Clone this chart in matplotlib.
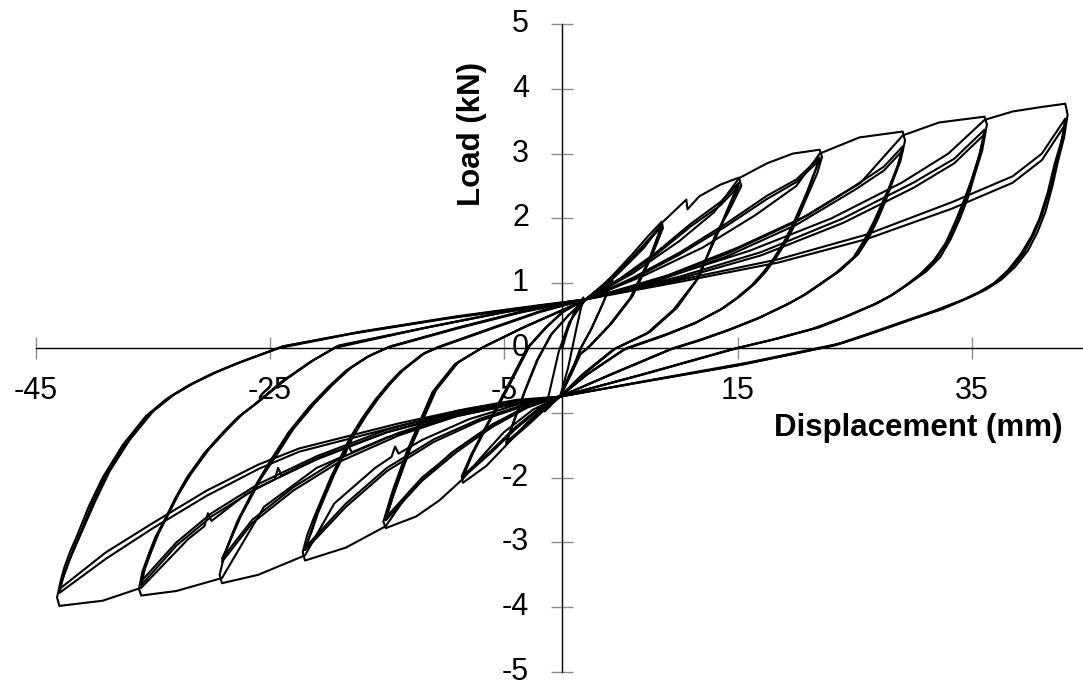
import matplotlib
matplotlib.use('Agg')
import matplotlib.pyplot as plt

plt.rcParams['font.family'] = ['Liberation Sans', 'DejaVu Sans']
plt.rcParams['axes.unicode_minus'] = False

# Cyclic load test: each loop is a list of cycles, each cycle one closed path
# written as: positive reload + unload + negative reload + unload back to the pinch
loop1_x = [[0, 0.4, 1.0, 1.8, 1.2, 0.5, -0.2, -0.8, -1.5, -1.0, -0.3, 0.6, 2.0]]
loop1_y = [[0, 0.25, 0.55, 0.78, 0.3, -0.3, -0.75, -0.85, -0.98, -0.6, -0.05, 0.4, 0.75]]

loop2_x = [
    [2.0, 3.0, 4.3, 3.5, 2.5, 1.6, 0.9, -0.2, -1.5, -3.0, -4.8, -4.2, -3.3, -2.2, -1.0, 0.5, 2.0],
    [2.0, 3.0, 4.3, 3.4, 2.4, 1.5, 0.8, -0.2, -1.5, -3.0, -4.8, -4.1, -3.2, -2.1, -0.9, 0.6, 2.0],
]
loop2_y = [
    [0.75, 0.9, 1.08, 0.7, 0.3, 0.0, -0.35, -0.75, -0.95, -1.2, -1.48, -1.15, -0.7, -0.2, 0.2, 0.5, 0.75],
    [0.75, 0.88, 1.05, 0.66, 0.27, -0.02, -0.37, -0.75, -0.93, -1.18, -1.45, -1.12, -0.67, -0.18, 0.22, 0.52, 0.75],
]

loop3_x = [
    [2.0, 3.2, 4.3, 6.0, 7.3, 8.5, 8.6, 7.6, 6.0, 4.2, 2.3, 1.6, 0.8, -0.2,
     -1.5, -3, -4.8, -6.5, -8.5, -8.6, -7.8, -6.5, -5.0, -3.0, -1.5, 0.0, 2.0],
    [2.0, 3.5, 5, 6.5, 8.5, 7.5, 5.9, 4.1, 2.2, 1.5, 0.7, -0.2,
     -2, -4, -6, -8.5, -7.7, -6.4, -4.9, -2.9, -1.4, 0.1, 2.0],
    [2.0, 3.5, 5, 6.5, 8.5, 7.4, 5.8, 4.0, 2.1, 1.4, 0.6, -0.2,
     -2, -4, -6, -8.5, -7.6, -6.3, -4.8, -2.8, -1.3, 0.2, 2.0],
]
loop3_y = [
    [0.75, 0.92, 1.12, 1.45, 1.72, 1.95, 1.85, 1.4, 0.8, 0.38, 0.02, -0.08, -0.38, -0.75,
     -0.9, -1.15, -1.5, -1.82, -2.08, -1.98, -1.65, -1.2, -0.7, 0.0, 0.3, 0.55, 0.75],
    [0.75, 0.98, 1.22, 1.5, 1.9, 1.38, 0.78, 0.36, 0.0, -0.1, -0.4, -0.75,
     -0.95, -1.25, -1.6, -2.0, -1.63, -1.18, -0.68, 0.02, 0.32, 0.57, 0.75],
    [0.75, 0.96, 1.2, 1.47, 1.88, 1.36, 0.77, 0.35, -0.01, -0.11, -0.41, -0.75,
     -0.93, -1.22, -1.57, -1.97, -1.61, -1.16, -0.67, 0.03, 0.33, 0.58, 0.75],
]

loop4_x = [
    [2.0, 4.5, 7, 8.5, 10.6, 10.7, 11.7, 13.5, 15.1, 15.3, 14.2, 13.1, 11.7, 9.8, 7.5, 4.6, 2.0, -0.2,
     -2.5, -5, -7, -8.5, -10.5, -12.5, -15.1, -15.3, -14.5, -13.3, -11.1, -9.2, -6.9, -3.5, 0, 2.0],
    [2.0, 5, 8, 11, 13.5, 15.1, 14.1, 12.9, 11.5, 9.6, 7.3, 4.4, 1.8, -0.2,
     -3, -6, -9, -12, -15.1, -14.3, -13.1, -10.9, -9.0, -6.7, -3.3, 0.2, 2.0],
    [2.0, 5, 8, 11, 13.5, 15.1, 14.0, 12.8, 11.4, 9.5, 7.2, 4.3, 1.7, -0.2,
     -3, -6, -9, -12, -15.1, -14.2, -13.0, -10.8, -8.9, -6.6, -3.2, 0.3, 2.0],
]
loop4_y = [
    [0.75, 1.1, 1.55, 1.93, 2.29, 2.14, 2.34, 2.52, 2.63, 2.5, 2.1, 1.75, 1.1, 0.62, 0.25, 0.0, -0.38, -0.75,
     -0.95, -1.3, -1.7, -2.02, -2.35, -2.6, -2.78, -2.68, -2.2, -1.6, -0.68, -0.25, 0.0, 0.3, 0.58, 0.75],
    [0.75, 1.08, 1.47, 1.92, 2.25, 2.55, 2.13, 1.62, 1.05, 0.6, 0.23, -0.02, -0.4, -0.75,
     -0.92, -1.22, -1.6, -2.05, -2.66, -2.17, -1.57, -0.66, -0.23, 0.02, 0.32, 0.6, 0.75],
    [0.75, 1.06, 1.44, 1.88, 2.2, 2.5, 2.05, 1.58, 1.03, 0.59, 0.22, -0.03, -0.41, -0.75,
     -0.9, -1.19, -1.56, -2.0, -2.62, -2.15, -1.55, -0.65, -0.22, 0.03, 0.33, 0.61, 0.75],
]

loop5_x = [
    [2.0, 6, 10, 13, 15.1, 17.5, 19.7, 22.0]
    + [22.2, 21.8, 21.2, 20.6, 20.0, 19.2, 18.3, 17.4, 16.5, 15.2, 13.8, 11.5, 9, 5.5, 2.2, -0.2]
    + [-3, -6, -9.5, -13, -15.1, -18.5, -22.0]
    + [-22.2, -21.8, -21.2, -20.5, -19.8, -19.0, -18.2, -17.1, -16.0, -14.9, -13.9, -12.0, -10.7, -6, -2, 2.0],
    [2.0, 6, 10, 14, 17.5, 20, 22.0]
    + [21.5, 21.0, 20.4, 19.8, 19.0, 18.1, 17.2, 16.3, 15.0, 13.6, 11.3, 8.8, 5.3, 2.0, -0.2]
    + [-3, -7, -11, -15, -18.5, -22.0]
    + [-21.5, -21.0, -20.3, -19.6, -18.8, -18.0, -16.9, -15.8, -14.7, -13.7, -11.8, -10.5, -5.8, -1.8, 2.0],
    [2.0, 6, 10, 14, 17.5, 20, 22.0]
    + [21.4, 20.9, 20.3, 19.7, 18.9, 18.0, 17.1, 16.2, 14.9, 13.5, 11.2, 8.7, 5.2, 1.9, -0.2]
    + [-3, -7, -11, -15, -18.5, -22.0]
    + [-21.4, -20.9, -20.2, -19.5, -18.7, -17.9, -16.8, -15.7, -14.6, -13.6, -11.7, -10.4, -5.7, -1.7, 2.0],
]
loop5_y = [
    [0.75, 1.15, 1.65, 2.1, 2.62, 2.85, 3.0, 3.06]
    + [2.95, 2.7, 2.45, 2.2, 1.95, 1.66, 1.4, 1.18, 1.0, 0.8, 0.62, 0.4, 0.22, 0.0, -0.4, -0.75]
    + [-0.9, -1.18, -1.62, -2.2, -2.75, -3.08, -3.28]
    + [-3.15, -2.88, -2.6, -2.3, -2.0, -1.7, -1.4, -1.08, -0.8, -0.56, -0.37, -0.1, 0.0, 0.3, 0.55, 0.75],
    [0.75, 1.08, 1.47, 1.92, 2.35, 2.6, 2.94]
    + [2.67, 2.42, 2.17, 1.92, 1.64, 1.38, 1.16, 0.98, 0.78, 0.6, 0.38, 0.2, -0.02, -0.42, -0.75]
    + [-0.88, -1.12, -1.45, -1.9, -2.45, -3.12]
    + [-2.84, -2.57, -2.27, -1.97, -1.67, -1.38, -1.06, -0.78, -0.54, -0.35, -0.08, 0.02, 0.32, 0.57, 0.75],
    [0.75, 1.06, 1.44, 1.88, 2.3, 2.56, 2.9]
    + [2.64, 2.4, 2.15, 1.9, 1.62, 1.36, 1.15, 0.97, 0.77, 0.59, 0.37, 0.19, -0.03, -0.43, -0.75]
    + [-0.86, -1.09, -1.41, -1.85, -2.4, -3.08]
    + [-2.82, -2.55, -2.25, -1.95, -1.66, -1.37, -1.05, -0.77, -0.53, -0.34, -0.07, 0.03, 0.33, 0.58, 0.75],
]

loop6_x = [
    [2.0, 7, 12, 16.5, 20, 22.0, 25.4, 29.1]
    + [29.3, 28.9, 28.3, 27.7, 27.0, 26.2, 25.3, 23.8, 22.2, 20.9, 19.5, 17, 14.5, 12, 9.5, 4.5, -0.2]
    + [-4, -8, -12, -14, -14.3, -14.6, -16, -19.5, -22.0, -26, -29.1]
    + [-29.3, -28.9, -28.4, -27.8, -27.0, -26.1, -25.0, -23.4, -21.6, -20.0, -18.5, -16.8, -15.0, -9, -3.5, 2.0],
    [2.0, 8, 14, 20, 25, 27.5, 29.1]
    + [28.7, 28.1, 27.5, 26.8, 26.0, 25.1, 23.6, 22.0, 20.7, 19.3, 16.8, 14.3, 11.8, 9.3, 4.3, -0.2]
    + [-4, -9, -14, -19, -23, -26.5, -29.1]
    + [-28.7, -28.2, -27.6, -26.8, -25.9, -24.8, -23.2, -21.4, -19.8, -18.3, -16.6, -14.8, -8.8, -3.3, 2.0],
    [2.0, 8, 14, 20, 25, 27.5, 29.1]
    + [28.6, 28.0, 27.3, 26.6, 25.8, 24.9, 23.4, 21.8, 20.5, 19.1, 16.6, 14.1, 11.6, 9.1, 4.1, -0.2]
    + [-4, -9, -14, -19, -23, -26.5, -29.1]
    + [-28.6, -28.1, -27.5, -26.7, -25.8, -24.6, -23.0, -21.2, -19.6, -18.1, -16.4, -14.6, -8.6, -3.1, 2.0],
]
loop6_y = [
    [0.75, 1.12, 1.55, 2.05, 2.5, 3.0, 3.25, 3.34]
    + [3.2, 2.88, 2.6, 2.3, 2.0, 1.7, 1.45, 1.2, 1.0, 0.84, 0.7, 0.48, 0.3, 0.14, 0.0, -0.38, -0.75]
    + [-0.88, -1.1, -1.42, -1.63, -1.52, -1.68, -1.85, -2.4, -3.2, -3.5, -3.63]
    + [-3.5, -3.2, -2.95, -2.68, -2.4, -2.08, -1.75, -1.3, -0.9, -0.6, -0.35, -0.15, 0.0, 0.3, 0.55, 0.75],
    [0.75, 1.05, 1.45, 1.95, 2.5, 2.8, 3.11]
    + [2.82, 2.55, 2.25, 1.97, 1.68, 1.42, 1.18, 0.98, 0.82, 0.68, 0.46, 0.28, 0.12, -0.02, -0.4, -0.75]
    + [-0.86, -1.05, -1.35, -1.75, -2.2, -2.7, -3.3]
    + [-3.1, -2.88, -2.62, -2.36, -2.05, -1.72, -1.27, -0.88, -0.58, -0.33, -0.13, 0.02, 0.32, 0.57, 0.75],
    [0.75, 1.03, 1.41, 1.9, 2.44, 2.74, 3.05]
    + [2.78, 2.5, 2.22, 1.94, 1.66, 1.4, 1.16, 0.96, 0.8, 0.66, 0.45, 0.27, 0.11, -0.03, -0.41, -0.75]
    + [-0.84, -1.02, -1.31, -1.7, -2.15, -2.65, -3.25]
    + [-3.06, -2.85, -2.6, -2.33, -2.02, -1.7, -1.25, -0.86, -0.56, -0.31, -0.11, 0.03, 0.33, 0.58, 0.75],
]

loop7_x = [
    [2.0, 9, 15, 21, 25.5, 29.1, 32.2, 36.1]
    + [36.3, 35.9, 35.3, 34.7, 34.0, 33.2, 32.3, 31.1, 29.7, 28.4, 27, 24.5, 22, 18.5, 15, 7.5, -0.2]
    + [-4, -9, -15, -18, -18.3, -18.6, -21, -25.5, -29.1, -33, -36.0]
    + [-36.2, -35.9, -35.4, -34.8, -34.0, -33.1, -32.1, -30.6, -29, -27.8, -26.5, -24, -21.6, -19.5, -12, -5, 2.0],
    [2.0, 10, 17, 24, 30, 33.5, 36.1]
    + [35.7, 35.1, 34.5, 33.8, 33.0, 32.0, 30.8, 29.5, 28.2, 26.8, 24.2, 21.5, 18, 14.5, 7, -0.2]
    + [-4, -9, -15, -21, -26, -30, -33, -36.0]
    + [-35.7, -35.2, -34.6, -33.8, -32.9, -31.9, -30.4, -28.8, -27.6, -26.3, -23.8, -21.4, -19.3, -11.5, -4.5, 2.0],
    [2.0, 10, 17, 24, 30, 33.5, 36.1]
    + [35.6, 35.0, 34.3, 33.6, 32.8, 31.8, 30.6, 29.3, 28.0, 26.6, 24.0, 21.3, 17.8, 14.3, 6.8, -0.2]
    + [-4, -9, -15, -21, -26, -30, -33, -36.0]
    + [-35.6, -35.1, -34.5, -33.7, -32.8, -31.7, -30.2, -28.6, -27.4, -26.1, -23.6, -21.2, -19.1, -11, -4, 2.0],
]
loop7_y = [
    [0.75, 1.12, 1.55, 2.05, 2.55, 3.28, 3.48, 3.57]
    + [3.45, 3.05, 2.7, 2.33, 2.0, 1.68, 1.4, 1.18, 1.0, 0.84, 0.7, 0.5, 0.32, 0.15, 0.0, -0.38, -0.75]
    + [-0.86, -1.05, -1.38, -1.61, -1.5, -1.66, -1.85, -2.45, -3.55, -3.75, -3.82]
    + [-3.72, -3.45, -3.2, -2.92, -2.65, -2.32, -2.0, -1.62, -1.3, -1.08, -0.9, -0.52, -0.22, 0.0, 0.3, 0.55, 0.75],
    [0.75, 1.1, 1.48, 2.0, 2.55, 2.92, 3.37]
    + [3.0, 2.65, 2.3, 1.98, 1.66, 1.38, 1.16, 0.98, 0.82, 0.68, 0.48, 0.3, 0.13, -0.02, -0.4, -0.75]
    + [-0.84, -1.0, -1.3, -1.72, -2.15, -2.6, -3.05, -3.66]
    + [-3.4, -3.15, -2.88, -2.6, -2.28, -1.96, -1.59, -1.27, -1.05, -0.87, -0.5, -0.2, 0.02, 0.32, 0.57, 0.75],
    [0.75, 1.07, 1.43, 1.93, 2.47, 2.85, 3.3]
    + [2.95, 2.6, 2.26, 1.95, 1.63, 1.36, 1.14, 0.96, 0.8, 0.67, 0.47, 0.29, 0.12, -0.03, -0.41, -0.75]
    + [-0.82, -0.97, -1.26, -1.67, -2.1, -2.55, -3.0, -3.6]
    + [-3.36, -3.12, -2.85, -2.57, -2.25, -1.93, -1.56, -1.25, -1.03, -0.85, -0.48, -0.18, 0.04, 0.34, 0.59, 0.75],
]

loop8_x = [
    [2.0, 9, 16, 23, 29, 33, 36.1, 38.5, 41, 43.0]
    + [43.2, 42.9, 42.4, 41.9, 41.3, 40.6, 39.8, 38.7, 37.5, 36.2, 34.8, 32.5, 30, 27, 24, 16, 8, -0.2]
    + [-4, -9, -15, -21, -24, -24.3, -24.6, -27, -30, -30.3, -30.6, -32, -36, -39.3, -43]
    + [-43.2, -42.9, -42.6, -42.1, -41.5, -40.5, -39.3, -37.6, -35.6, -33.8, -32, -30, -28, -24.2, -18, -10, -3, 2.0],
    [2.0, 10, 18.5, 26, 33.3, 38.5, 41, 43.0]
    + [42.7, 42.3, 41.7, 41.0, 40.3, 39.5, 38.4, 37.2, 35.9, 34.5, 32.0, 29.5, 26.5, 23.5, 15.5, 7.5, -0.2]
    + [-3.9, -8.2, -13.9, -22.5, -25.9, -30.4, -35, -39, -43.0]
    + [-42.7, -42.3, -41.8, -41.2, -40.2, -39.0, -37.3, -35.3, -33.5, -31.7, -29.7, -27.7, -24.0, -17.5, -9.5, -2.5, 2.0],
    [2.0, 10, 18.5, 26, 33.3, 38.5, 41, 43.0]
    + [42.6, 42.1, 41.5, 40.8, 40.1, 39.2, 38.1, 36.9, 35.6, 34.2, 31.6, 29, 26, 23, 15, 7, -0.2]
    + [-3.9, -8.2, -13.9, -22.5, -26, -30.4, -35, -39, -43.0]
    + [-42.6, -42.2, -41.6, -41.0, -39.9, -38.7, -37.0, -35.0, -33.2, -31.4, -29.4, -27.4, -23.8, -17, -9, -2, 2.0],
]
loop8_y = [
    [0.75, 1.1, 1.5, 2.0, 2.55, 3.0, 3.52, 3.65, 3.72, 3.77]
    + [3.6, 3.25, 2.9, 2.5, 2.1, 1.78, 1.5, 1.25, 1.05, 0.9, 0.78, 0.6, 0.45, 0.26, 0.08, -0.22, -0.48, -0.75]
    + [-0.85, -1.02, -1.3, -1.7, -1.97, -1.85, -2.03, -2.25, -2.67, -2.55, -2.75, -2.95, -3.7, -3.9, -3.98]
    + [-3.85, -3.6, -3.4, -3.15, -2.9, -2.45, -2.0, -1.5, -1.05, -0.78, -0.58, -0.4, -0.25, 0.0, 0.22, 0.45, 0.62, 0.75],
    [0.75, 1.05, 1.37, 1.75, 2.25, 2.65, 3.0, 3.54]
    + [3.2, 2.9, 2.45, 2.05, 1.75, 1.48, 1.23, 1.03, 0.88, 0.76, 0.58, 0.42, 0.23, 0.05, -0.25, -0.5, -0.75]
    + [-0.82, -0.97, -1.2, -1.6, -1.86, -2.28, -2.78, -3.25, -3.78]
    + [-3.55, -3.35, -3.1, -2.85, -2.4, -1.95, -1.46, -1.02, -0.75, -0.56, -0.38, -0.23, 0.02, 0.24, 0.47, 0.64, 0.75],
    [0.75, 1.02, 1.32, 1.68, 2.15, 2.55, 2.9, 3.45]
    + [3.15, 2.85, 2.4, 2.0, 1.72, 1.45, 1.2, 1.0, 0.86, 0.74, 0.56, 0.4, 0.21, 0.03, -0.27, -0.52, -0.75]
    + [-0.8, -0.94, -1.16, -1.55, -1.8, -2.2, -2.7, -3.15, -3.72]
    + [-3.5, -3.3, -3.05, -2.8, -2.35, -1.9, -1.42, -0.98, -0.72, -0.53, -0.36, -0.21, 0.03, 0.26, 0.49, 0.66, 0.75],
]

x_ticks = [-45, -25, -5, 15, 35]
y_ticks = [-5, -4, -3, -2, -1, 0, 1, 2, 3, 4, 5]
# the -1 label is hidden behind the x-axis label "-5" in the original
y_tick_labels = ['-5', '-4', '-3', '-2', '', '0', '1', '2', '3', '4', '5']

loops = [(loop1_x, loop1_y), (loop2_x, loop2_y), (loop3_x, loop3_y), (loop4_x, loop4_y),
         (loop5_x, loop5_y), (loop6_x, loop6_y), (loop7_x, loop7_y), (loop8_x, loop8_y)]

fig = plt.figure(figsize=(10.83, 6.86), dpi=100)
ax = fig.add_axes([36 / 1083, 14 / 686, 1048 / 1083, 648 / 686])

for lx, ly in loops:
    for cx, cy in zip(lx, ly):
        ax.plot(cx, cy, color='black', lw=1.5, solid_joinstyle='round')

ax.set_xlim(-45, 44.6)
ax.set_ylim(-5, 5)
ax.spines['left'].set_position(('data', 0))
ax.spines['bottom'].set_position(('data', 0))
ax.spines['top'].set_visible(False)
ax.spines['right'].set_visible(False)
ax.spines['left'].set_linewidth(1.0)
ax.spines['bottom'].set_linewidth(1.0)
ax.set_xticks(x_ticks)
ax.set_yticks(y_ticks)
ax.set_yticklabels(y_tick_labels)
ax.tick_params(direction='inout', length=16, width=1, color='#8c8c8c', labelsize=22)
ax.tick_params(axis='x', pad=12)
ax.tick_params(axis='y', pad=16)
for lbl in ax.get_yticklabels():
    lbl.set_verticalalignment('center')

fig.text(918 / 1083, 1 - 428 / 686, 'Displacement (mm)', fontsize=22.5, fontweight='bold',
         ha='center', va='center')
fig.text(472 / 1083, 1 - 134 / 686, 'Load (kN)', fontsize=22.5, fontweight='bold',
         ha='center', va='center', rotation=90)

fig.savefig('out.png', dpi=100)
